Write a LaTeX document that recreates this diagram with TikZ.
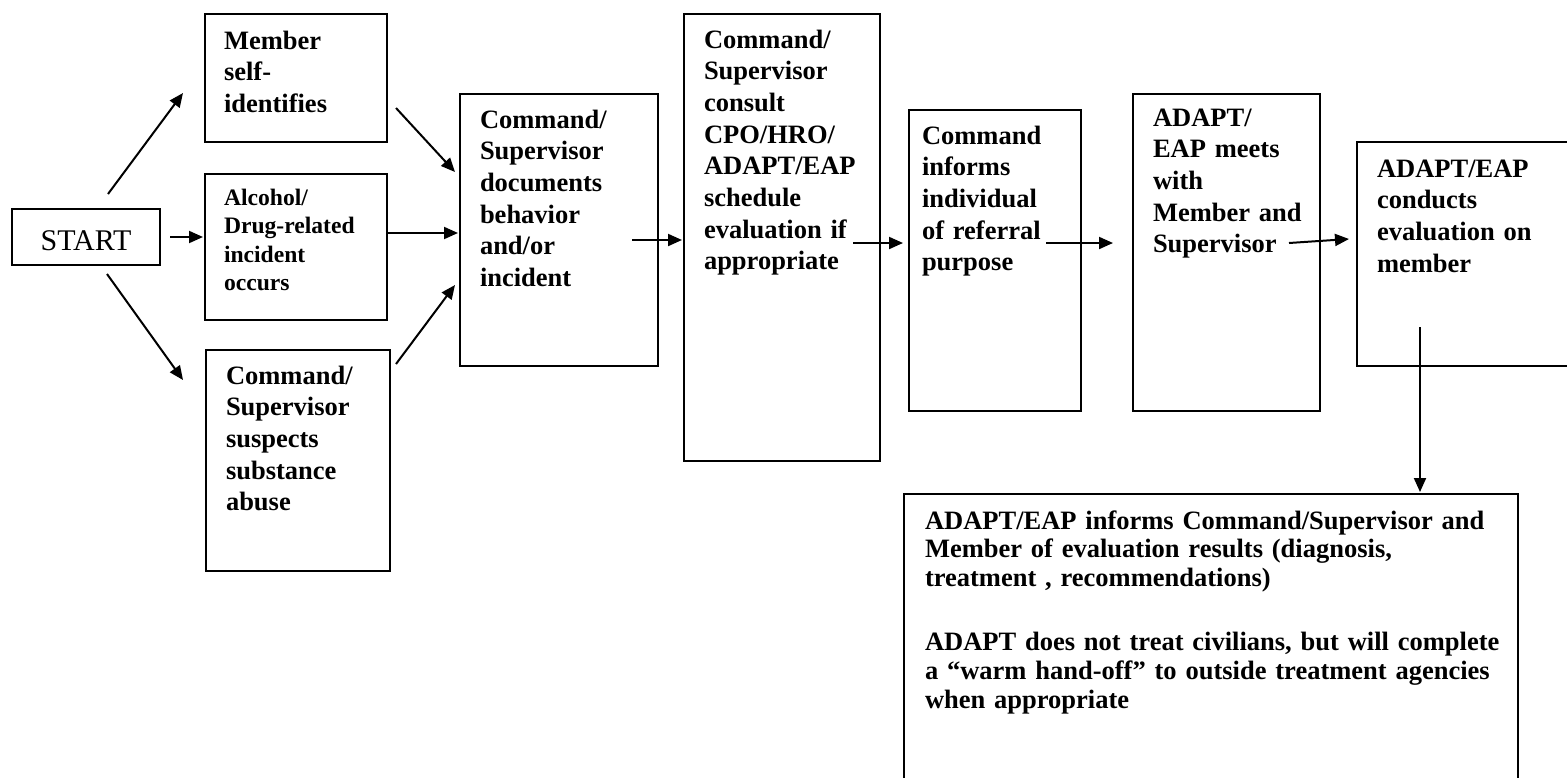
\documentclass[tikz,border=0pt]{standalone}
\usepackage{fontspec}
\setmainfont{Liberation Serif}
\usetikzlibrary{arrows.meta}
\tikzset{
	flowbox/.style n args={4}{draw, line width=2pt, anchor=north west, align=left, inner ysep=0pt,
		font=\bfseries\fontsize{26.5}{31.7}\selectfont,
		text width=#1, inner xsep=#2, text height=#3, text depth=#4},
	flowarrow/.style={line width=2pt, -{Triangle[length=14pt,width=12pt]}}
}
\begin{document}
\begin{tikzpicture}[x=1pt,y=-1pt]
	\useasboundingbox (0,0) rectangle (1567,777);
	\clip (0,0) rectangle (1567,777);
	\node[draw, line width=2pt, minimum width=148pt, minimum height=56pt, inner sep=0pt,
		text height=26pt, text depth=0pt, font=\fontsize{30}{36}\selectfont] (start) at (86,237) {START};
	\node[flowbox={144pt}{19pt}{35pt}{93pt}] (member) at (204,13) {Member\\self-\\identifies};
	\node[flowbox={144pt}{19pt}{31pt}{115pt}, font=\bfseries\fontsize{23.6}{28.6}\selectfont] (alcohol) at (204,173)
		{Alcohol/\\Drug-related\\incident\\occurs};
	\node[flowbox={144pt}{20pt}{34pt}{187pt}] (suspects) at (205,349)
		{Command/\\Supervisor\\suspects\\substance\\abuse};
	\node[flowbox={158pt}{20pt}{34pt}{238pt}] (documents) at (459,93)
		{Command/\\Supervisor\\documents\\behavior\\and/or\\incident};
	\node[flowbox={156pt}{20pt}{34pt}{413pt}] (consult) at (683,13)
		{Command/\\Supervisor\\consult\\CPO/HRO/\\ADAPT/EAP\\schedule\\evaluation~if\\appropriate};
	\node[flowbox={146pt}{13pt}{34pt}{267pt}] (informs) at (908,109)
		{Command\\informs\\individual\\of~referral\\purpose};
	\node[flowbox={147pt}{20pt}{32pt}{285pt}] (meets) at (1132,93)
		{ADAPT/\\EAP~meets\\with\\Member~and\\Supervisor};
	\node[flowbox={220pt}{20pt}{35pt}{189pt}] (conducts) at (1356,141)
		{ADAPT/EAP\\conducts\\evaluation~on\\member};
	\node[flowbox={572pt}{21pt}{35pt}{265pt}, font=\bfseries\fontsize{26.5}{28.8}\selectfont] (results) at (903,493)
		{\mbox{ADAPT/EAP informs Command/Supervisor and}\\
		\mbox{Member of evaluation results (diagnosis,}\\
		\mbox{treatment , recommendations)}\\[35pt]
		\mbox{ADAPT does not treat civilians, but will complete}\\
		\mbox{a “warm hand-off” to outside treatment agencies}\\
		\mbox{when appropriate}};
	% arrow ends
	\coordinate (start-up) at (108,194);
	\coordinate (start-mid) at (170,237);
	\coordinate (start-down) at (107,274);
	\coordinate (member-in) at (183,93);
	\coordinate (alcohol-in) at (203,237);
	\coordinate (suspects-in) at (183,380);
	\coordinate (member-out) at (396,108);
	\coordinate (alcohol-out) at (388,233);
	\coordinate (suspects-out) at (396,364);
	\coordinate (documents-in1) at (455,172);
	\coordinate (documents-in2) at (458,233);
	\coordinate (documents-in3) at (455,285);
	\coordinate (documents-out) at (632,240);
	\coordinate (consult-in) at (682,240);
	\coordinate (consult-out) at (853,243);
	\coordinate (informs-in) at (903,243);
	\coordinate (informs-out) at (1046,243);
	\coordinate (meets-in) at (1113,243);
	\coordinate (meets-out) at (1289,243);
	\coordinate (conducts-in) at (1349,239);
	\coordinate (conducts-out) at (1420,327);
	\coordinate (results-in) at (1420,492);
	\draw[flowarrow] (start-up) -- (member-in);
	\draw[flowarrow] (start-mid) -- (alcohol-in);
	\draw[flowarrow] (start-down) -- (suspects-in);
	\draw[flowarrow] (member-out) -- (documents-in1);
	\draw[flowarrow] (alcohol-out) -- (documents-in2);
	\draw[flowarrow] (suspects-out) -- (documents-in3);
	\draw[flowarrow] (documents-out) -- (consult-in);
	\draw[flowarrow] (consult-out) -- (informs-in);
	\draw[flowarrow] (informs-out) -- (meets-in);
	\draw[flowarrow] (meets-out) -- (conducts-in);
	\draw[flowarrow] (conducts-out) -- (results-in);
\end{tikzpicture}
\end{document}
